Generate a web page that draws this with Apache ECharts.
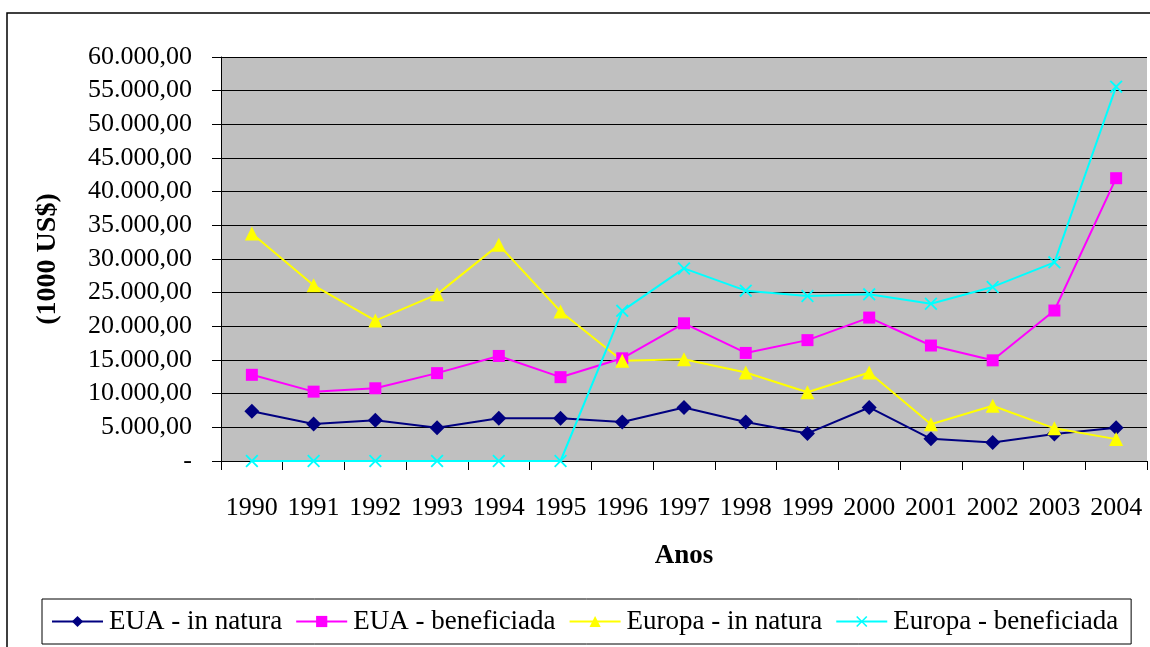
<!DOCTYPE html>
<html>
<head>
<meta charset="utf-8">
<script src="https://cdn.jsdelivr.net/npm/echarts@6/dist/echarts.min.js"></script>
<style>
  html, body { margin: 0; padding: 0; background: #fff; }
  #chart { width: 1150px; height: 647px; }
</style>
</head>
<body>
<div id="chart"></div>
<script>
// anos
const anos = ['1990', '1991', '1992', '1993', '1994', '1995', '1996', '1997',
  '1998', '1999', '2000', '2001', '2002', '2003', '2004']

// valores em 1000 US$
const euaInNatura = [7400, 5500, 6050, 4950, 6350, 6350, 5800, 7950, 5800, 4100, 7950, 3300, 2750, 4000, 4950]
const euaBeneficiada = [12800, 10300, 10800, 13050, 15600, 12450, 15250, 20450, 16050, 17950, 21300, 17150, 14950, 22350, 42000]
const europaInNatura = [33800, 26100, 20850, 24750, 32100, 22200, 14900, 15100, 13150, 10200, 13150, 5450, 8200, 4850, 3250]
const europaBeneficiada = [0, 0, 0, 0, 0, 0, 22300, 28600, 25300, 24500, 24750, 23350, 25850, 29500, 55600]

const font = 'Liberation Serif'
const xMark = 'path://M0,1L1,0L5,4L9,0L10,1L6,5L10,9L9,10L5,6L1,10L0,9L4,5Z'

function fmt(v) {
  if (v === 0) return '-'
  const s = v.toFixed(2).split('.')
  return s[0].replace(/\B(?=(\d{3})+(?!\d))/g, '.') + ',' + s[1]
}

function serie(name, data, color, symbol, size) {
  return {
    name: name,
    type: 'line',
    data: data,
    symbol: symbol,
    symbolSize: size,
    lineStyle: { color: color, width: 2 },
    itemStyle: { color: color },
    emphasis: { disabled: true },
    animation: false
  }
}

const chart = echarts.init(document.getElementById('chart'))
chart.setOption({
  backgroundColor: '#fff',
  textStyle: { fontFamily: font, color: '#000' },
  graphic: [{
    type: 'rect',
    shape: { x: 7, y: 13, width: 1300, height: 800 },
    style: { fill: 'none', stroke: '#000', lineWidth: 1.5 },
    silent: true,
    z: -1
  }],
  grid: { left: 221, top: 57, right: 3, bottom: 186 },
  xAxis: {
    type: 'category',
    data: anos,
    name: 'Anos',
    nameLocation: 'middle',
    nameGap: 82,
    nameTextStyle: { fontFamily: font, fontSize: 27, fontWeight: 'bold', color: '#000' },
    axisLine: { lineStyle: { color: '#000', width: 1 } },
    axisTick: { show: true, length: 9, lineStyle: { color: '#000' } },
    axisLabel: { interval: 0, fontFamily: font, fontSize: 26, color: '#000', margin: 34 },
    splitLine: { show: false }
  },
  yAxis: {
    type: 'value',
    min: 0,
    max: 60000,
    interval: 5000,
    name: '(1000 US$)',
    nameLocation: 'middle',
    nameGap: 159,
    nameTextStyle: { fontFamily: font, fontSize: 28, fontWeight: 'bold', color: '#000' },
    axisLine: { show: true, lineStyle: { color: '#000', width: 1 } },
    axisTick: { show: true, length: 9, lineStyle: { color: '#000' } },
    axisLabel: { fontFamily: font, fontSize: 26, color: '#000', margin: 29, formatter: fmt },
    splitLine: { show: true, lineStyle: { color: '#000', width: 1 } },
    splitArea: { show: true, areaStyle: { color: ['#c0c0c0', '#c0c0c0'] } }
  },
  legend: {
    left: 42,
    top: 599,
    padding: [9, 13, 9, 9],
    itemGap: 13,
    itemWidth: 51,
    itemHeight: 14,
    borderColor: '#000',
    borderWidth: 1,
    textStyle: { fontFamily: font, fontSize: 27, color: '#000', padding: [0, 0, 0, 1] },
    data: ['EUA - in natura', 'EUA - beneficiada', 'Europa - in natura', 'Europa - beneficiada']
  },
  series: [
    serie('EUA - in natura', euaInNatura, '#000080', 'diamond', 15),
    serie('EUA - beneficiada', euaBeneficiada, '#ff00ff', 'rect', 12),
    serie('Europa - in natura', europaInNatura, '#ffff00', 'triangle', 14),
    serie('Europa - beneficiada', europaBeneficiada, '#00ffff', xMark, 13)
  ]
})
</script>
</body>
</html>
